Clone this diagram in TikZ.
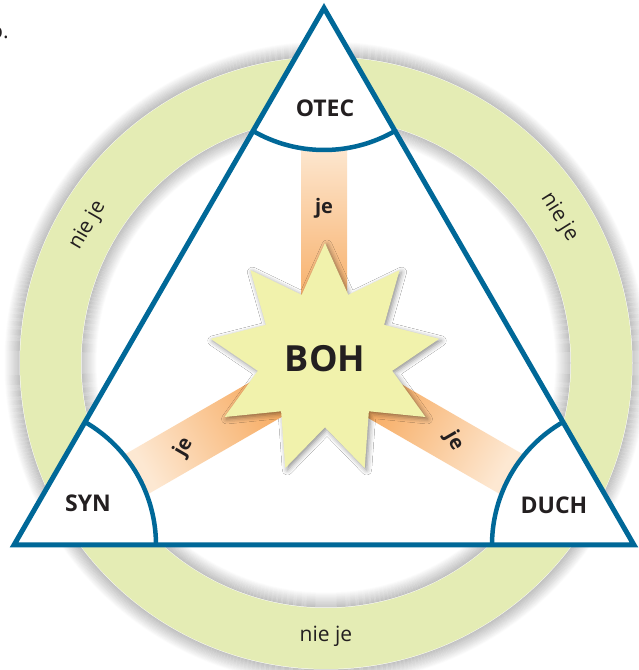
\documentclass[tikz,border=0pt]{standalone}
\usepackage{fontspec}
\setmainfont{Open Sans}
\usetikzlibrary{shapes.geometric,shadows.blur}
\definecolor{triblue}{RGB}{0,104,152}
\definecolor{ringgreen}{RGB}{228,236,180}
\definecolor{starfill}{RGB}{241,242,172}
\definecolor{barorange}{RGB}{245,152,62}
\definecolor{barlight}{RGB}{253,232,210}
\definecolor{textgray}{RGB}{35,31,32}
\begin{document}
\begin{tikzpicture}[
        x=1pt, y=1pt,
        thick,
        font=\bfseries
    ]
    \tikzset{
        ringtext/.style = {font=\fontsize{21}{21}\selectfont\mdseries, text=textgray},
        cornertext/.style = {font=\fontsize{23}{23}\selectfont\bfseries, text=textgray},
        barlabel/.style = {font=\fontsize{20}{20}\selectfont\bfseries, text=textgray},
        bohtext/.style = {font=\fontsize{36}{36}\selectfont\bfseries, text=textgray},
        bar/.style = {top color=barlight, bottom color=barorange},
        edget/.style = {line width=5pt, draw=triblue, line join=miter},
        edgea/.style = {line width=4.5pt, draw=triblue},
    }
    \useasboundingbox (0,0) rectangle (638,670);
    \coordinate (ring) at (326,307);
    \coordinate (mid) at (324,304);
    \coordinate (otec) at (324,662);
    \coordinate (syn) at (14,125);
    \coordinate (duch) at (634,125);
    %
    % ring with soft shadow
    \foreach \i [evaluate=\i as \op using 0.4*(1-\i/16)] in {1,...,15} {
        \draw[black!60, opacity=\op, line width=1pt] (ring) circle ({306+\i});
        \draw[black!60, opacity=\op, line width=1pt] (ring) circle ({245-\i});
    }
    \fill[ringgreen, even odd rule] (ring) circle (306) (ring) circle (245);
    \node[ringtext, rotate=60] (niel) at ([shift={(150:275)}]ring) {nie je};
    \node[ringtext, rotate=-58] (nier) at ([shift={(32:275)}]ring) {nie je};
    \node[ringtext] (nieb) at ([shift={(-90:273)}]ring) {nie je};
    \node[ringtext, anchor=base east, inner sep=0] (frag) at (9,631) {o.};
    %
    % triangle and bars
    \fill[white] (otec) -- (syn) -- (duch) -- cycle;
    \foreach \a in {0,120,240} {
        \shade[bar, shading angle=\a, shift={(mid)}, rotate=\a] (-23,0) rectangle (23,222);
    }
    \fill[white] (otec) -- ++(240:142) arc[start angle=240, end angle=300, radius=142] -- cycle;
    \fill[white] (syn) -- ++(0:142) arc[start angle=0, end angle=60, radius=142] -- cycle;
    \fill[white] (duch) -- ++(120:142) arc[start angle=120, end angle=180, radius=142] -- cycle;
    \draw[edgea] ([shift={(240:142)}]otec) arc[start angle=240, end angle=300, radius=142];
    \draw[edgea] ([shift={(0:142)}]syn) arc[start angle=0, end angle=60, radius=142];
    \draw[edgea] ([shift={(120:142)}]duch) arc[start angle=120, end angle=180, radius=142];
    \draw[edget] (otec) -- (syn) -- (duch) -- cycle;
    %
    \node[cornertext] (lotec) at (325,562) {OTEC};
    \node[cornertext] (lsyn) at (88,167) {SYN};
    \node[cornertext] (lduch) at (554,165) {DUCH};
    \node[barlabel] (jet) at ([shift={(90:158)}]mid) {je};
    \node[barlabel, rotate=60] (jel) at ([shift={(210:162)}]mid) {je};
    \node[barlabel, rotate=-60] (jer) at ([shift={(-30:150)}]mid) {je};
    %
    % star
    \node[star, star points=9, star point ratio=1.7, minimum size=232pt, inner sep=0,
        fill=starfill, blur shadow={shadow xshift=2pt, shadow yshift=-2pt,
        shadow blur radius=5pt, shadow opacity=45}] (boh) at (325,311) {};
    \node[bohtext] (lboh) at (boh) {BOH};
\end{tikzpicture}
\end{document}
